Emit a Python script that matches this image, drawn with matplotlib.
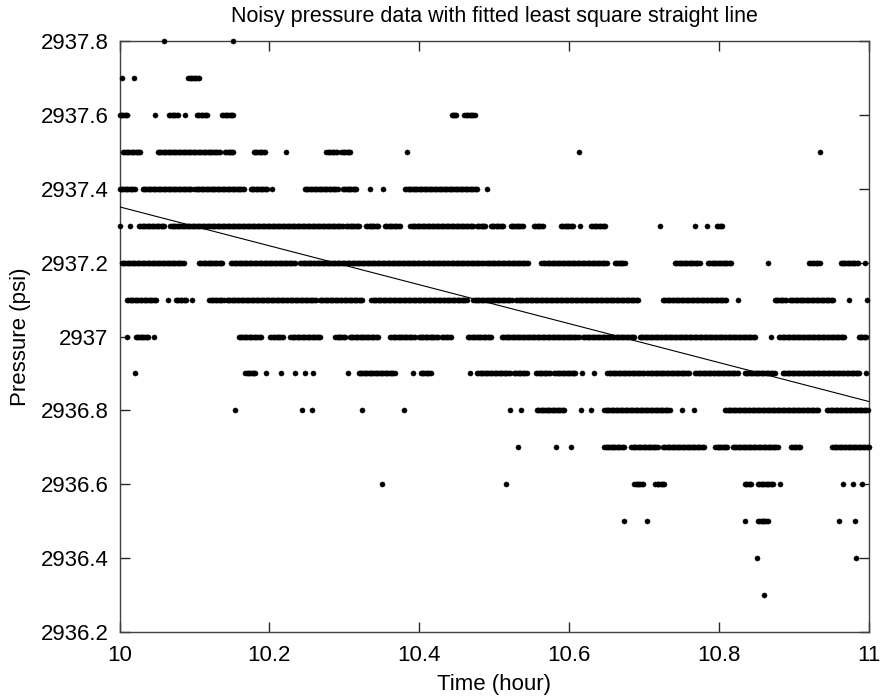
import numpy as np
import matplotlib
matplotlib.use("Agg")
import matplotlib.pyplot as plt

plt.rcParams['font.family'] = ['Liberation Sans', 'DejaVu Sans']

# Pressure levels (psi) and time runs (hour offsets from 10 h) where samples sit at that level.
# Each run is (start, end); single samples have start == end.
levels = [2937.8, 2937.7, 2937.6, 2937.5, 2937.4, 2937.3, 2937.2, 2937.1,
          2937.0, 2936.9, 2936.8, 2936.7, 2936.6, 2936.5, 2936.4, 2936.3]

runs_2937_8 = [(0.059, 0.059), (0.152, 0.152)]
runs_2937_7 = [(0.003, 0.003), (0.019, 0.019), (0.092, 0.106)]
runs_2937_6 = [(0.000, 0.010), (0.047, 0.047), (0.066, 0.078), (0.088, 0.088),
               (0.103, 0.117), (0.137, 0.152), (0.443, 0.449), (0.460, 0.474)]
runs_2937_5 = [(0.005, 0.028), (0.051, 0.134), (0.141, 0.152), (0.179, 0.194),
               (0.222, 0.222), (0.276, 0.290), (0.296, 0.308), (0.384, 0.384),
               (0.613, 0.613), (0.935, 0.935)]
runs_2937_4 = [(0.000, 0.020), (0.031, 0.096), (0.100, 0.166), (0.175, 0.197),
               (0.203, 0.203), (0.247, 0.291), (0.298, 0.316), (0.334, 0.334),
               (0.352, 0.352), (0.381, 0.477), (0.490, 0.490)]
runs_2937_3 = [(0.000, 0.000), (0.014, 0.014), (0.026, 0.060), (0.068, 0.298),
               (0.302, 0.320), (0.329, 0.345), (0.354, 0.374), (0.388, 0.472),
               (0.477, 0.488), (0.495, 0.512), (0.522, 0.538), (0.553, 0.565),
               (0.589, 0.605), (0.615, 0.615), (0.629, 0.648), (0.721, 0.721),
               (0.768, 0.768), (0.784, 0.784), (0.797, 0.804)]
runs_2937_2 = [(0.003, 0.086), (0.106, 0.137), (0.149, 0.234), (0.241, 0.261),
               (0.263, 0.485), (0.488, 0.545), (0.563, 0.650), (0.661, 0.674),
               (0.741, 0.774), (0.785, 0.816), (0.865, 0.865), (0.920, 0.934),
               (0.962, 0.985), (0.994, 0.994)]
runs_2937_1 = [(0.010, 0.049), (0.065, 0.065), (0.075, 0.089), (0.097, 0.097),
               (0.120, 0.139), (0.143, 0.262), (0.267, 0.324), (0.336, 0.463),
               (0.472, 0.523), (0.529, 0.692), (0.725, 0.809), (0.825, 0.825),
               (0.874, 0.889), (0.894, 0.952), (0.973, 0.973), (0.997, 0.997)]
runs_2937_0 = [(0.010, 0.010), (0.022, 0.038), (0.046, 0.046), (0.159, 0.189),
               (0.201, 0.218), (0.228, 0.268), (0.288, 0.301), (0.307, 0.345),
               (0.361, 0.394), (0.399, 0.425), (0.430, 0.442), (0.465, 0.496),
               (0.510, 0.613), (0.618, 0.687), (0.694, 0.848), (0.869, 0.869),
               (0.880, 0.967), (0.986, 0.996)]
runs_2936_9 = [(0.020, 0.020), (0.168, 0.181), (0.195, 0.195), (0.216, 0.216),
               (0.234, 0.234), (0.247, 0.247), (0.258, 0.258), (0.305, 0.305),
               (0.319, 0.367), (0.392, 0.392), (0.402, 0.415), (0.467, 0.467),
               (0.477, 0.521), (0.526, 0.543), (0.556, 0.574), (0.580, 0.608),
               (0.617, 0.617), (0.633, 0.633), (0.651, 0.700), (0.704, 0.760),
               (0.768, 0.825), (0.834, 0.872), (0.875, 0.875), (0.885, 0.987),
               (0.996, 0.996)]
runs_2936_8 = [(0.154, 0.154), (0.244, 0.244), (0.257, 0.257), (0.323, 0.323),
               (0.379, 0.379), (0.521, 0.521), (0.535, 0.535), (0.557, 0.593),
               (0.616, 0.616), (0.629, 0.629), (0.647, 0.734), (0.750, 0.750),
               (0.767, 0.767), (0.808, 0.932), (0.944, 0.998)]
runs_2936_7 = [(0.531, 0.531), (0.583, 0.583), (0.602, 0.602), (0.647, 0.673),
               (0.683, 0.718), (0.725, 0.780), (0.795, 0.811), (0.818, 0.878),
               (0.896, 0.908), (0.951, 1.000)]
runs_2936_6 = [(0.350, 0.350), (0.515, 0.515), (0.687, 0.698), (0.715, 0.727),
               (0.834, 0.843), (0.852, 0.872), (0.881, 0.881), (0.965, 0.965),
               (0.979, 0.979), (0.991, 0.991)]
runs_2936_5 = [(0.673, 0.673), (0.704, 0.704), (0.835, 0.835), (0.852, 0.865),
               (0.960, 0.960), (0.981, 0.981)]
runs_2936_4 = [(0.850, 0.850), (0.983, 0.983)]
runs_2936_3 = [(0.860, 0.860)]

all_runs = [runs_2937_8, runs_2937_7, runs_2937_6, runs_2937_5, runs_2937_4,
            runs_2937_3, runs_2937_2, runs_2937_1, runs_2937_0, runs_2936_9,
            runs_2936_8, runs_2936_7, runs_2936_6, runs_2936_5, runs_2936_4,
            runs_2936_3]

t0 = 10.0
sample_step = 1.0 / 600  # hours between samples within a run

# Fitted least-squares line end points
fit_t = [10.0, 11.0]
fit_p = [2937.351, 2936.824]

xticks = [10, 10.2, 10.4, 10.6, 10.8, 11]
xticklabels = ["10", "10.2", "10.4", "10.6", "10.8", "11"]
yticks = [2936.2, 2936.4, 2936.6, 2936.8, 2937.0, 2937.2, 2937.4, 2937.6, 2937.8]
yticklabels = ["2936.2", "2936.4", "2936.6", "2936.8", "2937", "2937.2",
               "2937.4", "2937.6", "2937.8"]

ts, ps = [], []
for lvl, runs in zip(levels, all_runs):
    for a, b in runs:
        n = max(1, int(round((b - a) / sample_step)) + 1)
        xs = np.linspace(a, b, n) if n > 1 else np.array([a])
        ts.extend(t0 + xs)
        ps.extend([lvl] * len(xs))

FS = 16
fig = plt.figure(figsize=(8.82, 7.0), dpi=100)
ax = fig.add_axes([0.1355, 0.0971, 0.9853 - 0.1355, 0.9414 - 0.0971])
ax.plot(ts, ps, linestyle='none', marker='o', markersize=3.7,
        markerfacecolor='black', markeredgecolor='black', markeredgewidth=0.3,
        clip_on=False, zorder=3)
ax.plot(fit_t, fit_p, color='black', linewidth=0.8, zorder=4)

ax.set_xlim(10, 11)
ax.set_ylim(2936.2, 2937.8)
ax.set_xticks(xticks)
ax.set_xticklabels(xticklabels)
ax.set_yticks(yticks)
ax.set_yticklabels(yticklabels)
ax.tick_params(direction='in', length=7, width=1, top=True, right=True,
               labelsize=FS, colors='#262626', labelcolor='black')
ax.tick_params(axis='y', pad=8)
ax.tick_params(axis='x', pad=9)
for s in ax.spines.values():
    s.set_color('#404040')
    s.set_linewidth(1.0)
ax.set_xlabel("Time (hour)", fontsize=FS, labelpad=6)
ax.set_ylabel("Pressure (psi)", fontsize=FS, labelpad=7)
ax.set_title("Noisy pressure data with fitted least square straight line",
             fontsize=15.5, pad=14)

fig.savefig("out.png", dpi=100, facecolor='white')
